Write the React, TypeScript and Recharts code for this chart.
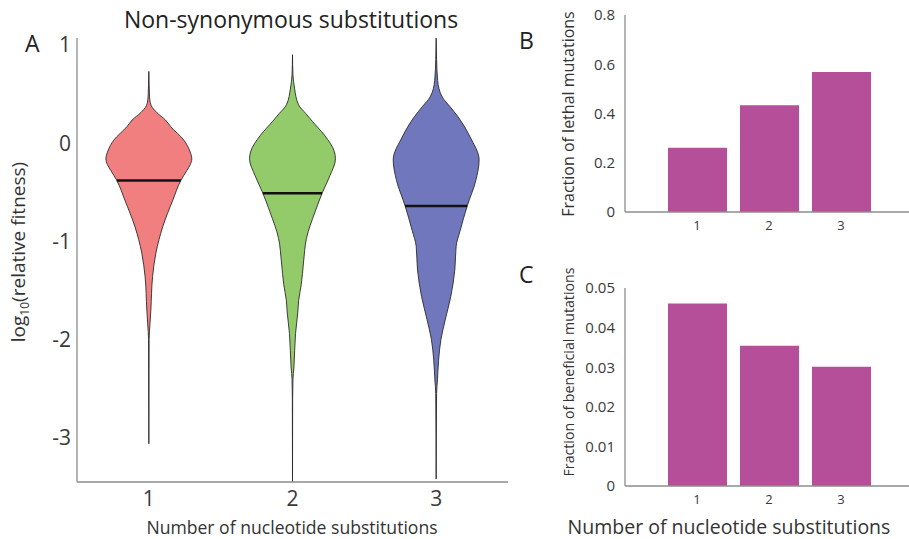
import { ComposedChart, Area, XAxis, YAxis, ReferenceLine, BarChart, Bar } from 'recharts'

const SUBSTITUTIONS = [1, 2, 3]
const FITNESS_TICKS = [-3, -2, -1, 0, 1]

// violin outlines: log10 fitness level -> half width (category units)
const V1_FITNESS = [0.73, 0.6, 0.5, 0.44, 0.38, 0.31, 0.235, 0.17, 0.03, -0.08, -0.16, -0.22, -0.28, -0.38, -0.58, -0.85, -1.12, -1.36, -1.7, -1.84, -2.0, -3.06]
const V1_HALF = [0, 0.002, 0.004, 0.007, 0.017, 0.056, 0.116, 0.151, 0.244, 0.285, 0.299, 0.288, 0.264, 0.223, 0.167, 0.097, 0.049, 0.026, 0.014, 0.008, 0.002, 0]

const V2_FITNESS = [0.9, 0.7, 0.56, 0.39, 0.3, 0.22, 0.08, -0.09, -0.16, -0.33, -0.5, -0.7, -0.97, -1.21, -1.44, -1.6, -1.72, -1.94, -2.28, -2.41, -2.6, -3.45]
const V2_HALF = [0, 0.003, 0.014, 0.042, 0.093, 0.139, 0.223, 0.292, 0.299, 0.261, 0.209, 0.157, 0.097, 0.077, 0.061, 0.043, 0.037, 0.021, 0.01, 0.003, 0.001, 0]

const V3_FITNESS = [1.07, 0.85, 0.64, 0.47, 0.37, 0.27, 0.06, -0.17, -0.38, -0.64, -0.89, -1.05, -1.29, -1.56, -1.8, -2.0, -2.21, -2.41, -2.55, -3.42]
const V3_HALF = [0, 0.003, 0.01, 0.042, 0.097, 0.151, 0.237, 0.299, 0.276, 0.216, 0.167, 0.139, 0.13, 0.102, 0.063, 0.033, 0.017, 0.009, 0.003, 0]

const MEDIANS = [-0.38, -0.51, -0.64]
const VIOLIN_COLORS = ['#f17f80', '#93cb6b', '#7077bd']

const LETHAL = [0.261, 0.433, 0.569]
const LETHAL_TICKS = [0, 0.2, 0.4, 0.6, 0.8]
const BENEFICIAL = [0.0461, 0.0354, 0.0301]
const BENEFICIAL_TICKS = [0, 0.01, 0.02, 0.03, 0.04, 0.05]

const BAR_COLOR = '#b64f9a'
const AXIS_COLOR = '#8c8c8c'
const TICK_COLOR = '#3a3a3a'

const violins = [
  { fitness: V1_FITNESS, half: V1_HALF },
  { fitness: V2_FITNESS, half: V2_HALF },
  { fitness: V3_FITNESS, half: V3_HALF },
].map((v, i) => {
  const center = SUBSTITUTIONS[i]
  const rows = v.fitness
    .map((y, j) => ({ y, range: [center - v.half[j], center + v.half[j]] }))
    .sort((a, b) => a.y - b.y)
  // width of the median bar = violin width at that level
  let w = 0
  for (let j = 0; j < v.fitness.length - 1; j++) {
    const a = v.fitness[j], b = v.fitness[j + 1]
    if (MEDIANS[i] <= a && MEDIANS[i] >= b) {
      const t = (a - MEDIANS[i]) / (a - b)
      w = v.half[j] + t * (v.half[j + 1] - v.half[j])
    }
  }
  return { center, rows, medianHalf: w }
})

const lethalData = SUBSTITUTIONS.map((n, i) => ({ n, value: LETHAL[i] }))
const beneficialData = SUBSTITUTIONS.map((n, i) => ({ n, value: BENEFICIAL[i] }))

const abs = (extra: React.CSSProperties): React.CSSProperties => ({ position: 'absolute', whiteSpace: 'nowrap', ...extra })

function rotated(x: number, y: number, size: number): React.CSSProperties {
  return abs({ left: x, top: y, fontSize: size, color: '#333', transform: 'translate(-50%, -50%) rotate(-90deg)' })
}

export default function App() {
  return (
    <div style={{ position: 'absolute', left: 0, top: 0, width: 909, height: 539, overflow: 'hidden', background: '#fff', fontFamily: '"Open Sans", sans-serif' }}>
      <div style={{ position: 'absolute', left: 0, top: 0 }}>
        <ComposedChart width={520} height={539} layout="vertical" margin={{ top: 38, right: 12, bottom: 27, left: 0 }}>
          <XAxis
            type="number"
            domain={[0.5, 3.5]}
            ticks={SUBSTITUTIONS}
            tickLine={false}
            tickSize={0}
            tickMargin={9}
            height={30}
            stroke={AXIS_COLOR}
            strokeWidth={1.3}
            tick={{ fill: TICK_COLOR, fontSize: 21 }}
            allowDataOverflow
          />
          <YAxis
            type="number"
            dataKey="y"
            domain={[-3.45, 1.07]}
            ticks={FITNESS_TICKS}
            reversed
            tickLine={false}
            tickSize={0}
            tickMargin={6}
            width={77}
            stroke={AXIS_COLOR}
            strokeWidth={1.3}
            tick={{ fill: TICK_COLOR, fontSize: 21 }}
            allowDataOverflow
          />
          {violins.map((v, i) => (
            <Area
              key={i}
              data={v.rows}
              dataKey="range"
              type="monotone"
              fill={VIOLIN_COLORS[i]}
              fillOpacity={1}
              stroke="#2a2a2a"
              strokeWidth={0.9}
              isAnimationActive={false}
              dot={false}
              activeDot={false}
            />
          ))}
          {violins.map((v, i) => (
            <ReferenceLine
              key={`m${i}`}
              segment={[
                { x: v.center - v.medianHalf, y: MEDIANS[i] },
                { x: v.center + v.medianHalf, y: MEDIANS[i] },
              ]}
              stroke="#111"
              strokeWidth={2.6}
            />
          ))}
        </ComposedChart>
      </div>

      <div style={{ position: 'absolute', left: 540, top: 0 }}>
        <BarChart width={373} height={260} data={lethalData} margin={{ top: 15, right: 0, bottom: 18, left: 0 }}>
          <XAxis
            type="number"
            dataKey="n"
            domain={[0, 4]}
            ticks={SUBSTITUTIONS}
            tickLine={false}
            tickSize={0}
            tickMargin={9}
            height={30}
            stroke={AXIS_COLOR}
            strokeWidth={1.3}
            tick={{ fill: TICK_COLOR, fontSize: 13 }}
          />
          <YAxis
            type="number"
            domain={[0, 0.8]}
            ticks={LETHAL_TICKS}
            tickLine={false}
            tickSize={0}
            tickMargin={10}
            width={85}
            stroke={AXIS_COLOR}
            strokeWidth={1.3}
            tick={{ fill: TICK_COLOR, fontSize: 15 }}
          />
          <Bar dataKey="value" fill={BAR_COLOR} barSize={59} isAnimationActive={false} />
        </BarChart>
      </div>

      <div style={{ position: 'absolute', left: 540, top: 260 }}>
        <BarChart width={373} height={279} data={beneficialData} margin={{ top: 28, right: 0, bottom: 25, left: 0 }}>
          <XAxis
            type="number"
            dataKey="n"
            domain={[0, 4]}
            ticks={SUBSTITUTIONS}
            tickLine={false}
            tickSize={0}
            tickMargin={9}
            height={28}
            stroke={AXIS_COLOR}
            strokeWidth={1.3}
            tick={{ fill: TICK_COLOR, fontSize: 13 }}
          />
          <YAxis
            type="number"
            domain={[0, 0.05]}
            ticks={BENEFICIAL_TICKS}
            tickLine={false}
            tickSize={0}
            tickMargin={10}
            width={85}
            stroke={AXIS_COLOR}
            strokeWidth={1.3}
            tick={{ fill: TICK_COLOR, fontSize: 15 }}
          />
          <Bar dataKey="value" fill={BAR_COLOR} barSize={59} isAnimationActive={false} />
        </BarChart>
      </div>

      <div style={abs({ left: 0, width: 582, top: 3, textAlign: 'center', fontSize: 23, color: '#222' })}>Non-synonymous substitutions</div>
      <div style={abs({ left: 25, top: 27, fontSize: 23, color: '#222' })}>A</div>
      <div style={abs({ left: 519, top: 24, fontSize: 23, color: '#222' })}>B</div>
      <div style={abs({ left: 519, top: 258, fontSize: 23, color: '#222' })}>C</div>

      <div style={rotated(19, 252, 19)}>
        log<sub style={{ fontSize: 12 }}>10</sub>(relative fitness)
      </div>
      <div style={abs({ left: 292, top: 527, fontSize: 17.6, color: '#333', transform: 'translate(-50%, -50%)' })}>
        Number of nucleotide substitutions
      </div>
      <div style={rotated(568, 114, 16)}>Fraction of lethal mutations</div>
      <div style={rotated(568, 372, 14.2)}>Fraction of beneficial mutations</div>
      <div style={abs({ left: 729, top: 526, fontSize: 19.5, color: '#333', transform: 'translate(-50%, -50%)' })}>
        Number of nucleotide substitutions
      </div>
    </div>
  )
}
